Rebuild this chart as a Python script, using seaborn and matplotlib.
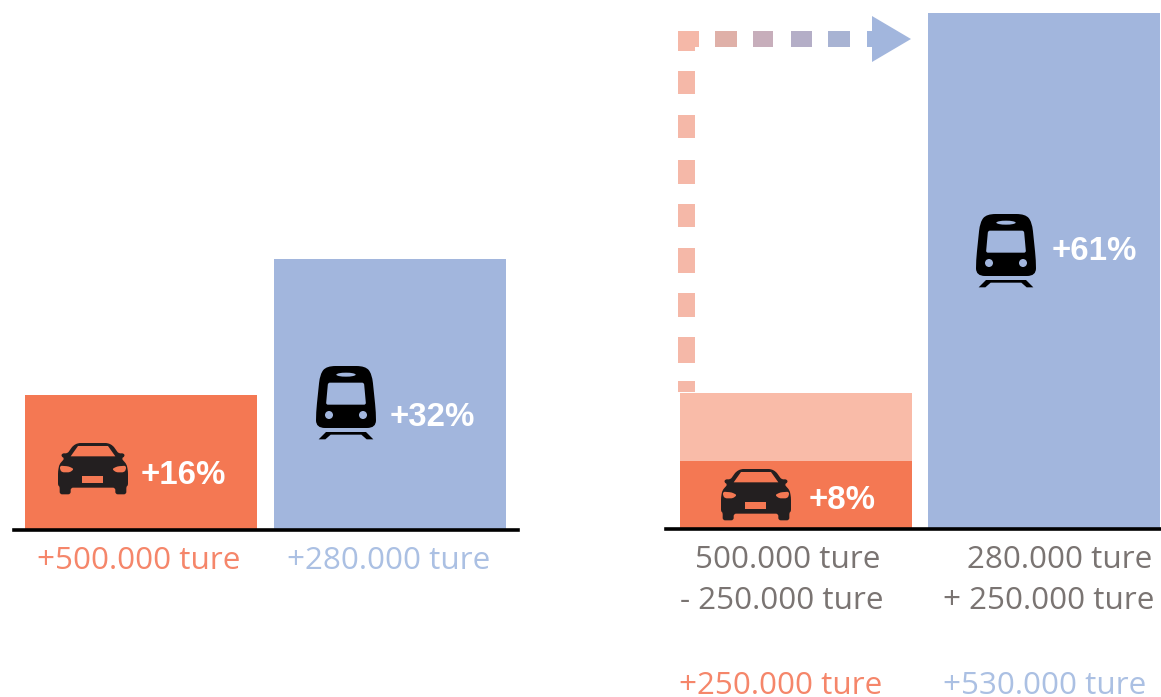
import matplotlib
matplotlib.use('Agg')
import matplotlib.pyplot as plt
from matplotlib.patches import Polygon, Rectangle, Circle, Ellipse, PathPatch
from matplotlib.path import Path
import pandas as pd
import seaborn as sns

sns.set_theme(style='white')

# data, all in percent
before_modes = ['Bil', 'Tog']
before_values = [16, 32]
after_modes = ['Bil', 'Tog']
after_values = [8, 61]
ghost_values = [16, 0]

ORANGE = '#F47853'
BLUE = '#A2B6DD'
LIGHT = '#F9BBA8'
GREY = '#7A7472'
TXT_ORANGE = '#F5866A'
TXT_BLUE = '#ABC0E3'
DARK = '#231F20'

W, H = 1161, 697
PX_PER_PCT = 8.46
LABEL_FONT = 'Open Sans'
PCT_FONT = 'Liberation Sans'

fig = plt.figure(figsize=(W / 100, H / 100), dpi=100, facecolor='white')


def make_axes(x0, x1, base):
    ax = fig.add_axes([x0 / W, 1 - base / H, (x1 - x0) / W, base / H])
    ax.set_ylim(0, base / PX_PER_PCT)
    ax.set_facecolor('none')
    sns.despine(ax=ax, left=True)
    ax.spines['bottom'].set_linewidth(2.6)
    ax.spines['bottom'].set_color('black')
    ax.spines['bottom'].set_zorder(5)
    return ax


# venstre
ax1 = make_axes(14, 518, 530)
df1 = pd.DataFrame({'mode': before_modes, 'pct': before_values})
sns.barplot(data=df1, x='mode', y='pct', hue='mode', palette=[ORANGE, BLUE],
            width=0.935, dodge=False, legend=False, ax=ax1, saturation=1, linewidth=0)
ax1.set_xlim(-0.510, 1.514)

# hoyre
ax2 = make_axes(666, 1161, 528.7)
df_ghost = pd.DataFrame({'mode': after_modes, 'pct': ghost_values})
df2 = pd.DataFrame({'mode': after_modes, 'pct': after_values})
sns.barplot(data=df_ghost, x='mode', y='pct', color=LIGHT, width=0.935,
            ax=ax2, saturation=1, linewidth=0)
sns.barplot(data=df2, x='mode', y='pct', hue='mode', palette=[ORANGE, BLUE],
            width=0.935, dodge=False, legend=False, ax=ax2, saturation=1, linewidth=0)
ax2.set_xlim(-0.522, 1.470)

for ax in (ax1, ax2):
    ax.set_xlabel('')
    ax.set_ylabel('')
    ax.set_xticks([])
    ax.set_yticks([])

# overlay in pixel coordinates, for text and icons
ov = fig.add_axes([0, 0, 1, 1])
ov.set_xlim(0, W)
ov.set_ylim(H, 0)
ov.axis('off')
ov.patch.set_alpha(0)


def rounded(pts, r):
    # closed polygon with the corners cut by quadratic curves
    verts, codes = [], []
    n = len(pts)
    for i in range(n):
        px, py = pts[i - 1]
        cx, cy = pts[i]
        nx, ny = pts[(i + 1) % n]
        d1 = max(((cx - px) ** 2 + (cy - py) ** 2) ** 0.5, 1e-6)
        d2 = max(((nx - cx) ** 2 + (ny - cy) ** 2) ** 0.5, 1e-6)
        t1 = min(r / d1, 0.5)
        t2 = min(r / d2, 0.5)
        a = (cx + (px - cx) * t1, cy + (py - cy) * t1)
        b = (cx + (nx - cx) * t2, cy + (ny - cy) * t2)
        verts.append(a)
        codes.append(Path.MOVETO if i == 0 else Path.LINETO)
        verts += [(cx, cy), b]
        codes += [Path.CURVE3, Path.CURVE3]
    verts.append(verts[0])
    codes.append(Path.CLOSEPOLY)
    return Path(verts, codes)


def car(x, y, bg):
    # shape measured in 3x zoom units
    def p(pts):
        return [(x + a / 3, y + b / 3) for a, b in pts]
    body = [(60, 0), (150, 0), (165, 8), (182, 32), (197, 30), (201, 40), (190, 46),
            (206, 64), (210, 85), (210, 128), (205, 130), (205, 154),
            (172, 154), (172, 134), (38, 134), (38, 154),
            (5, 154), (5, 130), (0, 128), (0, 85), (4, 64), (20, 46),
            (9, 40), (13, 30), (28, 32), (45, 8)]
    ov.add_patch(PathPatch(rounded(p(body), 2.5), fc=DARK, ec='none'))
    ov.add_patch(Polygon(p([(60, 9), (150, 9), (172, 40), (38, 40)]), fc=bg, ec='none'))
    ov.add_patch(PathPatch(rounded(p([(6, 68), (32, 70), (48, 78), (36, 88), (12, 88), (6, 80)]), 2),
                           fc=bg, ec='none'))
    ov.add_patch(PathPatch(rounded(p([(204, 68), (178, 70), (162, 78), (174, 88), (198, 88), (204, 80)]), 2),
                           fc=bg, ec='none'))
    ov.add_patch(Rectangle((x + 73 / 3, y + 98 / 3), 62 / 3, 22 / 3, fc=bg, ec='none'))


def train(x, y, bg):
    def p(pts):
        return [(x + a / 3, y + b / 3) for a, b in pts]
    body = [(32, 0), (148, 0), (168, 24), (180, 140), (180, 186), (0, 186), (0, 140), (12, 24)]
    ov.add_patch(PathPatch(rounded(p(body), 9), fc='black', ec='none'))
    ov.add_patch(PathPatch(rounded(p([(36, 50), (144, 50), (150, 116), (30, 116)]), 2), fc=bg, ec='none'))
    ov.add_patch(Ellipse((x + 90 / 3, y + 26 / 3), 58 / 3, 12 / 3, fc=bg, ec='none'))
    for cx in (39, 141):
        ov.add_patch(Circle((x + cx / 3, y + 147 / 3), 12 / 3, fc=bg, ec='none'))
    ov.add_patch(Polygon(p([(8, 220), (30, 198), (150, 198), (172, 220), (152, 220),
                            (136, 206), (44, 206), (28, 220)]), fc='black', ec='none'))


car(58, 443, ORANGE)
train(316, 366, BLUE)
car(721, 469, ORANGE)
train(976, 214, BLUE)


def pct(x, y, s):
    ov.text(x, y, s, color='white', fontsize=23.8, fontweight='bold', family=PCT_FONT,
            ha='left', va='center_baseline')


pct(141, 472.5, '+16%')
pct(390, 413.5, '+32%')
pct(809, 497, '+8%')
pct(1052, 248, '+61%')


def lab(x, y, s, c):
    ov.text(x, y, s, color=c, fontsize=22.6, family=LABEL_FONT, ha='left', va='baseline')


lab(37, 569, '+500.000 ture', TXT_ORANGE)
lab(287, 569, '+280.000 ture', TXT_BLUE)
lab(695, 567.5, '500.000 ture', GREY)
lab(680, 609, '- 250.000 ture', GREY)
lab(967, 567.5, '280.000 ture', GREY)
lab(943, 609, '+ 250.000 ture', GREY)
lab(679, 694, '+250.000 ture', TXT_ORANGE)
lab(943, 694, '+530.000 ture', TXT_BLUE)

# dashed arrow, vertical part
DASH = '#F5B8A8'
vert_y = [(71, 94), (115, 138), (160, 184), (204, 227), (248, 273), (293, 317),
          (337, 363), (381, 392)]
ov.add_patch(Rectangle((678, 31), 17, 20, fc=DASH, ec='none'))
for y0, y1 in vert_y:
    ov.add_patch(Rectangle((678, y0), 17, y1 - y0, fc=DASH, ec='none'))

# horizontal part fades from salmon to blue
horiz = [(678, 699, DASH), (715, 737, '#DFB0A8'), (753, 773, '#C7AEBB'),
         (791, 812, '#B4AEC7'), (828, 850, '#A8B3D3'), (867, 873, BLUE)]
for x0, x1, c in horiz:
    ov.add_patch(Rectangle((x0, 31), x1 - x0, 16, fc=c, ec='none'))
ov.add_patch(Polygon([(872, 16), (911, 39), (872, 62)], fc=BLUE, ec='none'))

fig.savefig('out.png', dpi=100)
